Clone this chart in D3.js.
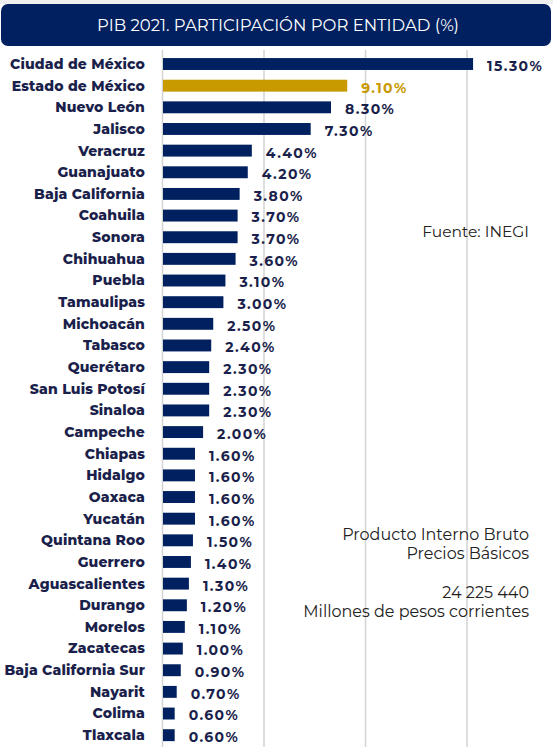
<!DOCTYPE html>
<html>
<head>
<meta charset="utf-8">
<script src="https://cdn.jsdelivr.net/npm/d3@7"></script>
<style>
  html, body { margin: 0; padding: 0; background: #ffffff; }
  svg { display: block; }
</style>
</head>
<body>
<div id="chart"></div>
<script>
// datos: PIB 2021, participación por entidad (%)
const entidades = [
  'Ciudad de México', 'Estado de México', 'Nuevo León', 'Jalisco', 'Veracruz',
  'Guanajuato', 'Baja California', 'Coahuila', 'Sonora', 'Chihuahua',
  'Puebla', 'Tamaulipas', 'Michoacán', 'Tabasco', 'Querétaro',
  'San Luis Potosí', 'Sinaloa', 'Campeche', 'Chiapas', 'Hidalgo',
  'Oaxaca', 'Yucatán', 'Quintana Roo', 'Guerrero', 'Aguascalientes',
  'Durango', 'Morelos', 'Zacatecas', 'Baja California Sur', 'Nayarit',
  'Colima', 'Tlaxcala'
];
const participacion = [
  15.3, 9.1, 8.3, 7.3, 4.4,
  4.2, 3.8, 3.7, 3.7, 3.6,
  3.1, 3.0, 2.5, 2.4, 2.3,
  2.3, 2.3, 2.0, 1.6, 1.6,
  1.6, 1.6, 1.5, 1.4, 1.3,
  1.2, 1.1, 1.0, 0.9, 0.7,
  0.6, 0.6
];
const destacado = 'Estado de México';
const gridTicks = [0, 5, 10, 15];
const titulo = 'PIB 2021. PARTICIPACIÓN POR ENTIDAD (%)';
const fuente = 'Fuente: INEGI';
const notas = ['Producto Interno Bruto', 'Precios Básicos', '', '24 225 440', 'Millones de pesos corrientes'];

const data = entidades.map((e, i) => ({ entidad: e, valor: participacion[i] }));

const width = 553;
const height = 747;
const navy = '#002060';
const gold = '#c89a00';
const font = 'Montserrat, "Noto Sans", "Open Sans", sans-serif';

const svg = d3.select('#chart')
  .append('svg')
  .attr('width', width)
  .attr('height', height);

// franja gris superior
svg.append('rect')
  .attr('x', 0).attr('y', 0)
  .attr('width', width).attr('height', 4)
  .attr('fill', '#efefef');

// barra del título
svg.append('rect')
  .attr('x', 1).attr('y', 4)
  .attr('width', width - 3).attr('height', 42)
  .attr('rx', 7)
  .attr('fill', navy);

svg.append('text')
  .attr('x', 278)
  .attr('y', 31)
  .attr('text-anchor', 'middle')
  .attr('fill', '#ffffff')
  .style('font-family', font)
  .style('font-size', '16.5px')
  .text(titulo);

// escalas
const x = d3.scaleLinear()
  .domain([0, 15])
  .range([162.5, 467]);

const y = d3.scaleBand()
  .domain(entidades)
  .range([53.2, 746])
  .paddingInner(0.45)
  .paddingOuter(0.225);

// líneas de cuadrícula
svg.append('g')
  .selectAll('line')
  .data(gridTicks)
  .enter()
  .append('line')
  .attr('x1', d => x(d))
  .attr('x2', d => x(d))
  .attr('y1', 50)
  .attr('y2', height)
  .attr('stroke', '#d3d3d3')
  .attr('stroke-width', 1.5);

// barras
svg.append('g')
  .selectAll('rect')
  .data(data)
  .enter()
  .append('rect')
  .attr('x', x(0) + 0.5)
  .attr('y', d => y(d.entidad))
  .attr('width', d => x(d.valor) - x(0) - 0.5)
  .attr('height', y.bandwidth())
  .attr('fill', d => d.entidad === destacado ? gold : navy);

// etiquetas de entidad
svg.append('g')
  .selectAll('text')
  .data(data)
  .enter()
  .append('text')
  .attr('x', 145)
  .attr('y', d => y(d.entidad) + y.bandwidth() / 2)
  .attr('dy', '0.35em')
  .attr('text-anchor', 'end')
  .attr('fill', '#1b1f4b')
  .style('font-family', font)
  .style('font-size', '14px')
  .style('font-weight', '800')
  .style('letter-spacing', '0.15px')
  .text(d => d.entidad);

// etiquetas de valor
svg.append('g')
  .selectAll('text')
  .data(data)
  .enter()
  .append('text')
  .attr('x', d => x(d.valor) + 14)
  .attr('y', d => y(d.entidad) + y.bandwidth() / 2 + 2)
  .attr('dy', '0.35em')
  .attr('fill', d => d.entidad === destacado ? gold : '#1b1f4b')
  .style('font-family', font)
  .style('font-size', '14px')
  .style('font-weight', 'bold')
  .style('letter-spacing', '1.4px')
  .text(d => d.valor.toFixed(2) + '%');

// fuente
svg.append('text')
  .attr('x', 529)
  .attr('y', 237)
  .attr('text-anchor', 'end')
  .attr('fill', '#222222')
  .style('font-family', font)
  .style('font-size', '15.5px')
  .text(fuente);

// notas
svg.append('g')
  .selectAll('text')
  .data(notas)
  .enter()
  .append('text')
  .attr('x', 529)
  .attr('y', (d, i) => 540 + i * 19.2)
  .attr('text-anchor', 'end')
  .attr('fill', '#222222')
  .style('font-family', font)
  .style('font-size', '16px')
  .text(d => d);
</script>
</body>
</html>
